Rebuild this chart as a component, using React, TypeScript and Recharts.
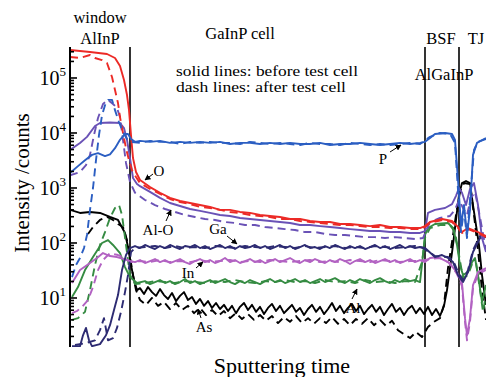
import React from "react";
import { LineChart, Line, XAxis, YAxis, ReferenceLine } from "recharts";

// sputtering time (arb. units) vs counts; [time, counts]
const oBefore = [
  [0, 323000], [20, 297000], [37, 273000], [45, 231000], [50, 165000], [54, 92000], [57, 49000], [59, 26000],
  [61, 9200], [63, 3500], [66, 1950], [70, 1400], [80, 1040], [90, 820], [100, 660], [110, 580], [120, 533],
  [130, 490], [140, 452], [150, 400], [160, 400], [170, 367], [180, 352], [190, 323], [200, 310], [210, 297],
  [220, 273], [230, 273], [240, 251], [250, 241], [260, 241], [270, 221], [280, 221], [290, 212], [300, 203],
  [310, 212], [320, 195], [330, 195], [340, 187], [350, 187], [355, 203], [360, 241], [372, 273], [382, 251],
  [388, 195], [392, 158], [398, 187], [408, 158], [416, 134],
];
const oAfter = [
  [0, 241000], [10, 231000], [20, 262000], [25, 231000], [32, 212000], [37, 187000], [42, 104000], [45, 60500],
  [48, 35000], [50, 19500], [53, 10000], [56, 5300], [59, 3200], [62, 2100], [66, 1580], [70, 1230], [80, 960],
  [90, 780], [100, 630], [110, 555], [120, 510], [130, 452], [140, 433], [150, 400], [160, 367], [170, 352],
  [180, 323], [190, 310], [200, 297], [210, 273], [220, 273], [230, 251], [240, 241], [250, 231], [260, 221],
  [270, 212], [280, 212], [290, 203], [300, 195], [310, 195], [320, 187], [330, 187], [340, 179], [350, 179],
  [355, 195], [360, 231], [372, 262], [382, 241], [388, 187], [392, 152], [398, 179], [408, 152], [416, 128],
];
const alOBefore = [
  [0, 4900], [10, 6600], [17, 8500], [25, 13400], [30, 15200], [40, 15500], [50, 15200], [54, 12300], [57, 7500],
  [60, 3500], [63, 1520], [67, 1180], [70, 1080], [80, 850], [90, 660], [100, 533], [110, 470], [120, 415],
  [130, 383], [140, 352], [150, 323], [160, 310], [170, 285], [180, 273], [190, 262], [200, 251], [210, 241],
  [220, 231], [230, 212], [240, 212], [250, 203], [260, 195], [270, 187], [280, 179], [290, 172], [300, 165],
  [310, 165], [320, 158], [330, 158], [340, 152], [350, 152], [355, 165], [358, 352], [365, 400], [375, 433],
  [382, 510], [386, 720], [389, 1000], [392, 820], [396, 490], [400, 960], [404, 1230], [408, 490], [412, 123],
  [416, 68.5],
];
const alOAfter = [
  [0, 1700], [10, 1950], [16, 2600], [20, 4000], [24, 9200], [28, 18700], [33, 33700], [38, 40000], [43, 33700],
  [47, 28500], [50, 19500], [53, 7500], [56, 2850], [60, 1290], [65, 820], [75, 605], [85, 490], [95, 415],
  [105, 367], [115, 323], [125, 297], [135, 273], [145, 262], [155, 241], [165, 231], [175, 212], [185, 212],
  [195, 195], [205, 187], [215, 179], [225, 172], [235, 158], [245, 158], [255, 146], [265, 140], [275, 140],
  [285, 134], [295, 128], [305, 128], [315, 123], [325, 128], [335, 123], [345, 118], [353, 123], [360, 241],
  [370, 285], [380, 310], [385, 400], [389, 605], [393, 433], [397, 323], [401, 660], [405, 850], [409, 367],
  [416, 74.5],
];
const pBefore = [
  [0, 1870], [8, 2500], [15, 3200], [22, 4000], [28, 4300], [35, 3800], [40, 4100], [45, 5300], [50, 7500],
  [55, 9600], [58, 9600], [61, 7800], [65, 6900], [70, 7200], [80, 6900], [90, 7200], [100, 6600], [110, 6900],
  [120, 6600], [130, 6900], [140, 6600], [150, 6900], [160, 6300], [170, 6600], [180, 6600], [190, 6300],
  [200, 6600], [210, 6300], [220, 6600], [230, 6300], [240, 6300], [250, 6600], [260, 6050], [270, 6300],
  [280, 6300], [290, 6600], [300, 6300], [310, 6050], [320, 6300], [330, 6600], [340, 6300], [350, 6600],
  [355, 6900], [360, 8100], [365, 9600], [375, 10000], [382, 9600], [385, 7500], [388, 1400], [391, 212],
  [394, 490], [397, 140], [400, 400], [403, 4000], [407, 6600], [416, 8100],
];
const pAfter = [
  [2, 24], [6, 39.7], [10, 53.3], [14, 81], [17, 140], [20, 400], [23, 1000], [26, 3200], [29, 9200], [32, 21000],
  [35, 32000], [38, 40000], [42, 40000], [45, 26000], [49, 15800], [53, 10400], [57, 7800], [61, 6900], [70, 6600],
  [80, 7200], [90, 6900], [100, 6900], [110, 6300], [120, 6900], [130, 6600], [140, 6900], [150, 6600], [160, 6600],
  [170, 6300], [180, 6900], [190, 6600], [200, 6300], [210, 6600], [220, 6300], [230, 6050], [240, 6600],
  [250, 6300], [260, 6300], [270, 6050], [280, 6600], [290, 6300], [300, 6050], [310, 6300], [320, 6050],
  [330, 6300], [340, 6600], [350, 6300], [360, 8500], [370, 10000], [380, 9600], [385, 6600], [388, 920],
  [391, 158], [394, 400], [397, 123], [400, 605], [404, 4900], [408, 6900], [416, 7800],
];
const gaBefore = [
  [2, 1.33], [10, 1.33], [13, 2.1], [16, 2.85], [19, 1.7], [22, 1.33], [30, 1.45], [36, 2.1], [40, 3.2], [44, 6.05],
  [48, 11.3], [52, 32.2], [56, 60.4], [60, 81], [65, 88], [70, 81], [75, 92], [80, 84.5], [85, 77.7], [90, 88],
  [95, 81], [100, 92], [105, 84.5], [110, 77.7], [115, 88], [120, 84.5], [125, 92], [130, 81], [135, 88],
  [140, 77.7], [145, 84.5], [150, 92], [155, 81], [160, 88], [165, 77.7], [170, 88], [175, 81], [180, 84.5],
  [185, 92], [190, 81], [195, 88], [200, 77.7], [205, 84.5], [210, 92], [215, 81], [220, 88], [225, 77.7],
  [230, 84.5], [235, 92], [240, 81], [245, 84.5], [250, 77.7], [255, 88], [260, 81], [265, 92], [270, 84.5],
  [275, 77.7], [280, 88], [285, 81], [290, 88], [295, 77.7], [300, 84.5], [305, 92], [310, 81], [315, 88],
  [320, 77.7], [325, 84.5], [330, 92], [335, 81], [340, 88], [345, 81], [350, 84.5], [355, 81], [365, 55.5],
  [372, 60.4], [378, 53.3], [383, 45], [388, 26.1], [393, 19.5], [398, 29.6], [403, 68.5], [410, 123], [416, 128],
];
const gaAfter = [
  [5, 1.4], [15, 1.5], [25, 1.7], [30, 2.6], [34, 4.3], [38, 1.7], [43, 1.87], [47, 2.85], [51, 5.6], [55, 12.8],
  [58, 26.1], [61, 68.5], [65, 81], [75, 84.5], [85, 88], [95, 81], [105, 88], [115, 81], [125, 84.5], [135, 81],
  [145, 88], [155, 84.5], [165, 81], [175, 88], [185, 84.5], [195, 81], [205, 88], [215, 84.5], [225, 81],
  [235, 88], [245, 81], [255, 84.5], [265, 88], [275, 81], [285, 84.5], [295, 81], [305, 88], [315, 84.5],
  [325, 81], [335, 84.5], [345, 88], [353, 81], [365, 57.9], [378, 55.5], [383, 49], [388, 29.6], [393, 21.2],
  [398, 32.2], [403, 74.5], [410, 134], [416, 134],
];
const inBefore = [
  [2, 18.7], [10, 32.2], [20, 43.2], [27, 53.3], [33, 65.7], [40, 57.9], [47, 55.5], [54, 51.1], [60, 47], [65, 45],
  [70, 49], [75, 43.2], [80, 47], [85, 51.1], [90, 45], [95, 49], [100, 43.2], [105, 47], [110, 51.1], [115, 45],
  [120, 41.4], [125, 47], [130, 51.1], [135, 45], [140, 49], [145, 43.2], [150, 47], [155, 53.3], [160, 45],
  [165, 49], [170, 43.2], [175, 47], [180, 51.1], [185, 45], [190, 49], [195, 43.2], [200, 47], [205, 51.1],
  [210, 45], [215, 49], [220, 53.3], [225, 47], [230, 43.2], [235, 49], [240, 45], [245, 51.1], [250, 47],
  [255, 43.2], [260, 49], [265, 45], [270, 51.1], [275, 47], [280, 41.4], [285, 47], [290, 51.1], [295, 45],
  [300, 49], [305, 43.2], [310, 47], [315, 51.1], [320, 45], [325, 49], [330, 43.2], [335, 47], [340, 51.1],
  [345, 45], [350, 49], [355, 45], [360, 53.3], [368, 55.5], [378, 45], [387, 29.6], [392, 18.7], [395, 4.3],
  [397, 2.1], [400, 4.3], [403, 17.2], [408, 29.6], [416, 35],
];
const inAfter = [
  [2, 5.3], [7, 5.8], [12, 6.9], [18, 9.2], [23, 15.8], [28, 32.2], [33, 49], [40, 65.7], [48, 60.4], [55, 53.3],
  [60, 45], [70, 47], [80, 45], [90, 49], [100, 45], [110, 47], [120, 45], [130, 49], [140, 45], [150, 47],
  [160, 49], [170, 45], [180, 47], [190, 45], [200, 49], [210, 47], [220, 45], [230, 47], [240, 49], [250, 45],
  [260, 47], [270, 45], [280, 49], [290, 47], [300, 45], [310, 49], [320, 47], [330, 45], [340, 47], [350, 47],
  [360, 51.1], [370, 53.3], [380, 43.2], [387, 27.2], [392, 16.5], [395, 3.7], [397, 1.7], [400, 3.7], [403, 15.1],
  [408, 27.2], [416, 32.2],
];
const alBefore = [
  [2, 10.4], [8, 15.8], [15, 32.2], [23, 55.5], [32, 100], [38, 113], [43, 92], [50, 65.7], [55, 36.5], [60, 24],
  [67, 18.7], [75, 20.3], [80, 17.9], [85, 19.5], [90, 21.2], [95, 18.7], [100, 20.3], [105, 17.9], [110, 19.5],
  [115, 22.1], [120, 18.7], [125, 20.3], [130, 17.9], [135, 19.5], [140, 21.2], [145, 18.7], [150, 20.3],
  [155, 22.1], [160, 19.5], [165, 17.9], [170, 20.3], [175, 18.7], [180, 21.2], [185, 19.5], [190, 17.9],
  [195, 20.3], [200, 22.1], [205, 19.5], [210, 21.2], [215, 18.7], [220, 20.3], [225, 22.1], [230, 19.5],
  [235, 21.2], [240, 18.7], [245, 20.3], [250, 22.1], [255, 19.5], [260, 21.2], [265, 23], [270, 20.3],
  [275, 18.7], [280, 21.2], [285, 19.5], [290, 22.1], [295, 20.3], [300, 18.7], [305, 21.2], [310, 23],
  [315, 20.3], [320, 18.7], [325, 21.2], [330, 19.5], [335, 22.1], [340, 20.3], [345, 21.2], [350, 19.5],
  [353, 60.4], [355, 140], [358, 187], [365, 221], [378, 231], [383, 187], [387, 92], [390, 39.7], [393, 26.1],
  [398, 29.6], [402, 45], [405, 53.3], [408, 26.1], [412, 8.5], [416, 17.2],
];
const alAfter = [
  [2, 4], [8, 4.3], [15, 5.6], [20, 13.9], [25, 39.7], [30, 92], [35, 158], [40, 285], [45, 433], [49, 490],
  [52, 323], [56, 92], [60, 26.1], [65, 17.9], [75, 18.7], [85, 20.3], [95, 19.5], [105, 18.7], [115, 20.3],
  [125, 19.5], [135, 18.7], [145, 20.3], [155, 19.5], [165, 21.2], [175, 19.5], [185, 18.7], [195, 20.3],
  [205, 19.5], [215, 21.2], [225, 19.5], [235, 20.3], [245, 18.7], [255, 21.2], [265, 19.5], [275, 20.3],
  [285, 18.7], [295, 21.2], [305, 19.5], [315, 20.3], [325, 18.7], [335, 20.3], [345, 19.5], [352, 45],
  [355, 123], [360, 187], [370, 212], [380, 212], [385, 158], [389, 60.4], [393, 23], [398, 26.1], [402, 41.4],
  [406, 45], [410, 13.9], [413, 5.6], [416, 11.3],
];
const asBefore = [
  [0, 400], [10, 352], [20, 367], [30, 352], [40, 297], [48, 262], [55, 152], [58, 84.5], [61, 39.7], [64, 21.2],
  [67, 13.9], [70, 15.1], [74, 11.8], [78, 15.8], [82, 12.8], [86, 10.9], [90, 14.5], [94, 11.3], [98, 9.6],
  [102, 12.3], [106, 8.8], [110, 10.9], [114, 12.8], [118, 9.2], [122, 10.4], [126, 7.8], [130, 9.6], [134, 7.2],
  [138, 8.8], [142, 6.6], [146, 8.1], [150, 6.3], [154, 7.5], [158, 5.8], [162, 7.2], [166, 5.3], [170, 6.9],
  [174, 8.1], [178, 6.05], [182, 7.5], [186, 5.6], [190, 6.9], [194, 5.1], [198, 6.6], [202, 7.8], [206, 5.8],
  [210, 7.2], [214, 5.3], [218, 6.3], [222, 7.5], [226, 5.6], [230, 6.6], [234, 4.9], [238, 6.3], [242, 7.5],
  [246, 5.6], [250, 6.9], [254, 5.1], [258, 6.3], [262, 8.1], [266, 5.8], [270, 7.2], [274, 5.3], [278, 6.6],
  [282, 7.8], [286, 5.8], [290, 7.2], [294, 5.1], [298, 6.3], [302, 7.5], [306, 5.6], [310, 6.9], [314, 4.9],
  [318, 6.3], [322, 7.8], [326, 5.6], [330, 6.6], [334, 4.9], [338, 6.3], [342, 7.2], [346, 5.3], [350, 6.6],
  [354, 5.1], [358, 6.9], [362, 4.9], [366, 6.3], [370, 4.7], [374, 7.2], [377, 13.9], [380, 35], [383, 92],
  [386, 262], [389, 750], [392, 1230], [396, 1340], [400, 1230], [403, 490], [406, 212], [409, 92], [412, 26.1],
  [416, 7.5],
];
const asAfter = [
  [18, 146], [23, 195], [30, 262], [37, 297], [43, 262], [48, 221], [53, 195], [57, 113], [60, 55.5], [63, 26.1],
  [66, 13.9], [70, 9.2], [76, 7.5], [82, 10], [88, 7.2], [94, 8.5], [100, 6.3], [106, 8.1], [112, 6.05], [118, 7.2],
  [124, 5.3], [130, 6.6], [136, 4.9], [142, 6.05], [148, 4.7], [154, 5.8], [160, 4.3], [166, 5.3], [172, 4.15],
  [178, 5.1], [184, 4], [190, 4.9], [196, 3.85], [202, 4.7], [208, 3.5], [214, 4.5], [220, 3.7], [226, 4.7],
  [232, 3.5], [238, 4.3], [244, 3.4], [250, 4.3], [256, 3.5], [262, 4.5], [268, 3.4], [274, 4.15], [280, 3.2],
  [286, 4.15], [292, 3.4], [298, 4.3], [304, 3.2], [310, 4], [316, 3.1], [322, 3.85], [328, 2.6], [334, 2.2],
  [340, 1.87], [346, 2.4], [352, 1.95], [358, 2.97], [364, 3.7], [370, 4.3], [374, 7.5], [378, 35], [382, 104],
  [386, 323], [390, 850], [394, 1230], [400, 1180], [404, 323], [408, 74.5], [412, 13.9], [416, 4],
];

// layer boundaries (window | GaInP cell | BSF | TJ)
const boundaries = [60, 355, 389];
const decades = [10, 100, 1000, 10000, 100000];
const minorSteps = [2, 3, 4, 5, 6, 7, 8, 9];
const yDomain = [1.285, 366000];

const yTicks = [1, ...decades]
  .flatMap((d) => [d, ...minorSteps.map((m) => m * d)])
  .filter((v) => v >= yDomain[0] && v <= yDomain[1]);

const toPts = (a: number[][]) => a.map(([t, v]) => ({ t, v }));

const FONT = "'Liberation Serif', 'Times New Roman', serif";
const C = {
  o: "#ec2a26",
  alo: "#6a52b6",
  p: "#2b5ec2",
  ga: "#2d2b72",
  inn: "#b262c2",
  al: "#358b42",
  as: "#000000",
};

const series = [
  { key: "asA", data: asAfter, color: C.as, dash: true },
  { key: "asB", data: asBefore, color: C.as, dash: false },
  { key: "alA", data: alAfter, color: C.al, dash: true },
  { key: "alB", data: alBefore, color: C.al, dash: false },
  { key: "inA", data: inAfter, color: C.inn, dash: true },
  { key: "inB", data: inBefore, color: C.inn, dash: false },
  { key: "gaA", data: gaAfter, color: C.ga, dash: true },
  { key: "gaB", data: gaBefore, color: C.ga, dash: false },
  { key: "aloA", data: alOAfter, color: C.alo, dash: true },
  { key: "aloB", data: alOBefore, color: C.alo, dash: false },
  { key: "oA", data: oAfter, color: C.o, dash: true },
  { key: "oB", data: oBefore, color: C.o, dash: false },
  { key: "pA", data: pAfter, color: C.p, dash: true },
  { key: "pB", data: pBefore, color: C.p, dash: false },
];

function YTick(props: any) {
  const { x, y, payload } = props;
  const v = payload.value;
  const exp = Math.round(Math.log10(v));
  const major = Math.abs(v - Math.pow(10, exp)) < 1e-6 * v;
  return (
    <g>
      <line x1={x} x2={x + (major ? 7 : 4)} y1={y} y2={y} stroke="#000" strokeWidth={1.6} />
      {major && (
        <text x={x - 4} y={y + 7} textAnchor="end" fontFamily={FONT} fontSize={20} fill="#000">
          10
          <tspan dy={-9} fontSize={13}>
            {exp}
          </tspan>
        </text>
      )}
    </g>
  );
}

const notes = [
  { text: "O", x: 159, y: 176, from: [153, 174], to: [145, 180] },
  { text: "Al-O", x: 158, y: 235, from: [166, 221], to: [171, 210] },
  { text: "Ga", x: 218, y: 234, from: [227, 236], to: [237, 244] },
  { text: "P", x: 383, y: 164, from: [390, 152], to: [401, 145] },
  { text: "In", x: 188, y: 278, from: [196, 268], to: [203, 262] },
  { text: "As", x: 204, y: 332, from: [201, 318], to: [198, 309] },
  { text: "Al", x: 353, y: 313, from: [352, 299], to: [357, 289] },
];

export default function App() {
  return (
    <div style={{ position: "fixed", left: 0, top: 0, width: 486, height: 377, overflow: "hidden", background: "#fff" }}>
      <LineChart width={486} height={377} margin={{ top: 47, right: 0, bottom: 30, left: 0 }}>
        <XAxis
          type="number"
          dataKey="t"
          domain={[0, 416]}
          allowDataOverflow
          tick={false}
          tickLine={false}
          height={0}
          axisLine={{ stroke: "#000", strokeWidth: 2 }}
        />
        <XAxis
          xAxisId="top"
          orientation="top"
          type="number"
          domain={[0, 416]}
          tick={false}
          tickLine={false}
          height={0}
          axisLine={{ stroke: "#000", strokeWidth: 2 }}
        />
        <YAxis
          scale="log"
          domain={yDomain}
          allowDataOverflow
          ticks={yTicks}
          interval={0}
          width={70}
          tickLine={false}
          tickSize={0}
          tickMargin={0}
          tick={<YTick />}
          axisLine={{ stroke: "#000", strokeWidth: 2 }}
        />
        {boundaries.map((b) => (
          <ReferenceLine key={b} x={b} stroke="#000" strokeWidth={1.6} ifOverflow="hidden" />
        ))}
        {series.map((s) => (
          <Line
            key={s.key}
            data={toPts(s.data)}
            dataKey="v"
            type="linear"
            stroke={s.color}
            strokeWidth={1.9}
            strokeLinejoin="round"
            strokeDasharray={s.dash ? "8 5" : undefined}
            dot={false}
            activeDot={false}
            isAnimationActive={false}
          />
        ))}
      </LineChart>
      <svg
        width={486}
        height={377}
        style={{ position: "absolute", left: 0, top: 0, pointerEvents: "none" }}
        fontFamily={FONT}
      >
        <defs>
          <marker id="ah" viewBox="0 0 10 10" refX="9" refY="5" markerWidth="6" markerHeight="6" orient="auto">
            <path d="M0,0 L10,5 L0,10 z" fill="#000" />
          </marker>
        </defs>
        <text x={100} y={23} textAnchor="middle" fontSize={16.5}>window</text>
        <text x={100} y={44} textAnchor="middle" fontSize={16.5}>AlInP</text>
        <text x={240} y={39} textAnchor="middle" fontSize={16.5}>GaInP cell</text>
        <text x={441} y={44} textAnchor="middle" fontSize={16.5}>BSF</text>
        <text x={476} y={44} textAnchor="middle" fontSize={16.5}>TJ</text>
        <text x={444} y={80} textAnchor="middle" fontSize={16.5}>AlGaInP</text>
        <text x={176} y={76} fontSize={14.5} textLength={182} lengthAdjust="spacingAndGlyphs">
          solid lines: before test cell
        </text>
        <text x={176} y={92} fontSize={14.5} textLength={170} lengthAdjust="spacingAndGlyphs">
          dash lines: after test cell
        </text>
        {notes.map((n) => (
          <g key={n.text}>
            <text x={n.x} y={n.y} textAnchor="middle" fontSize={15}>{n.text}</text>
            <line
              x1={n.from[0]}
              y1={n.from[1]}
              x2={n.to[0]}
              y2={n.to[1]}
              stroke="#000"
              strokeWidth={1}
              markerEnd="url(#ah)"
            />
          </g>
        ))}
        <text x={282} y={373} textAnchor="middle" fontSize={22}>Sputtering time</text>
        <text x={22} y={183} textAnchor="middle" fontSize={21} transform="rotate(-90 22 183)" dominantBaseline="central">
          Intensity /counts
        </text>
      </svg>
    </div>
  );
}
